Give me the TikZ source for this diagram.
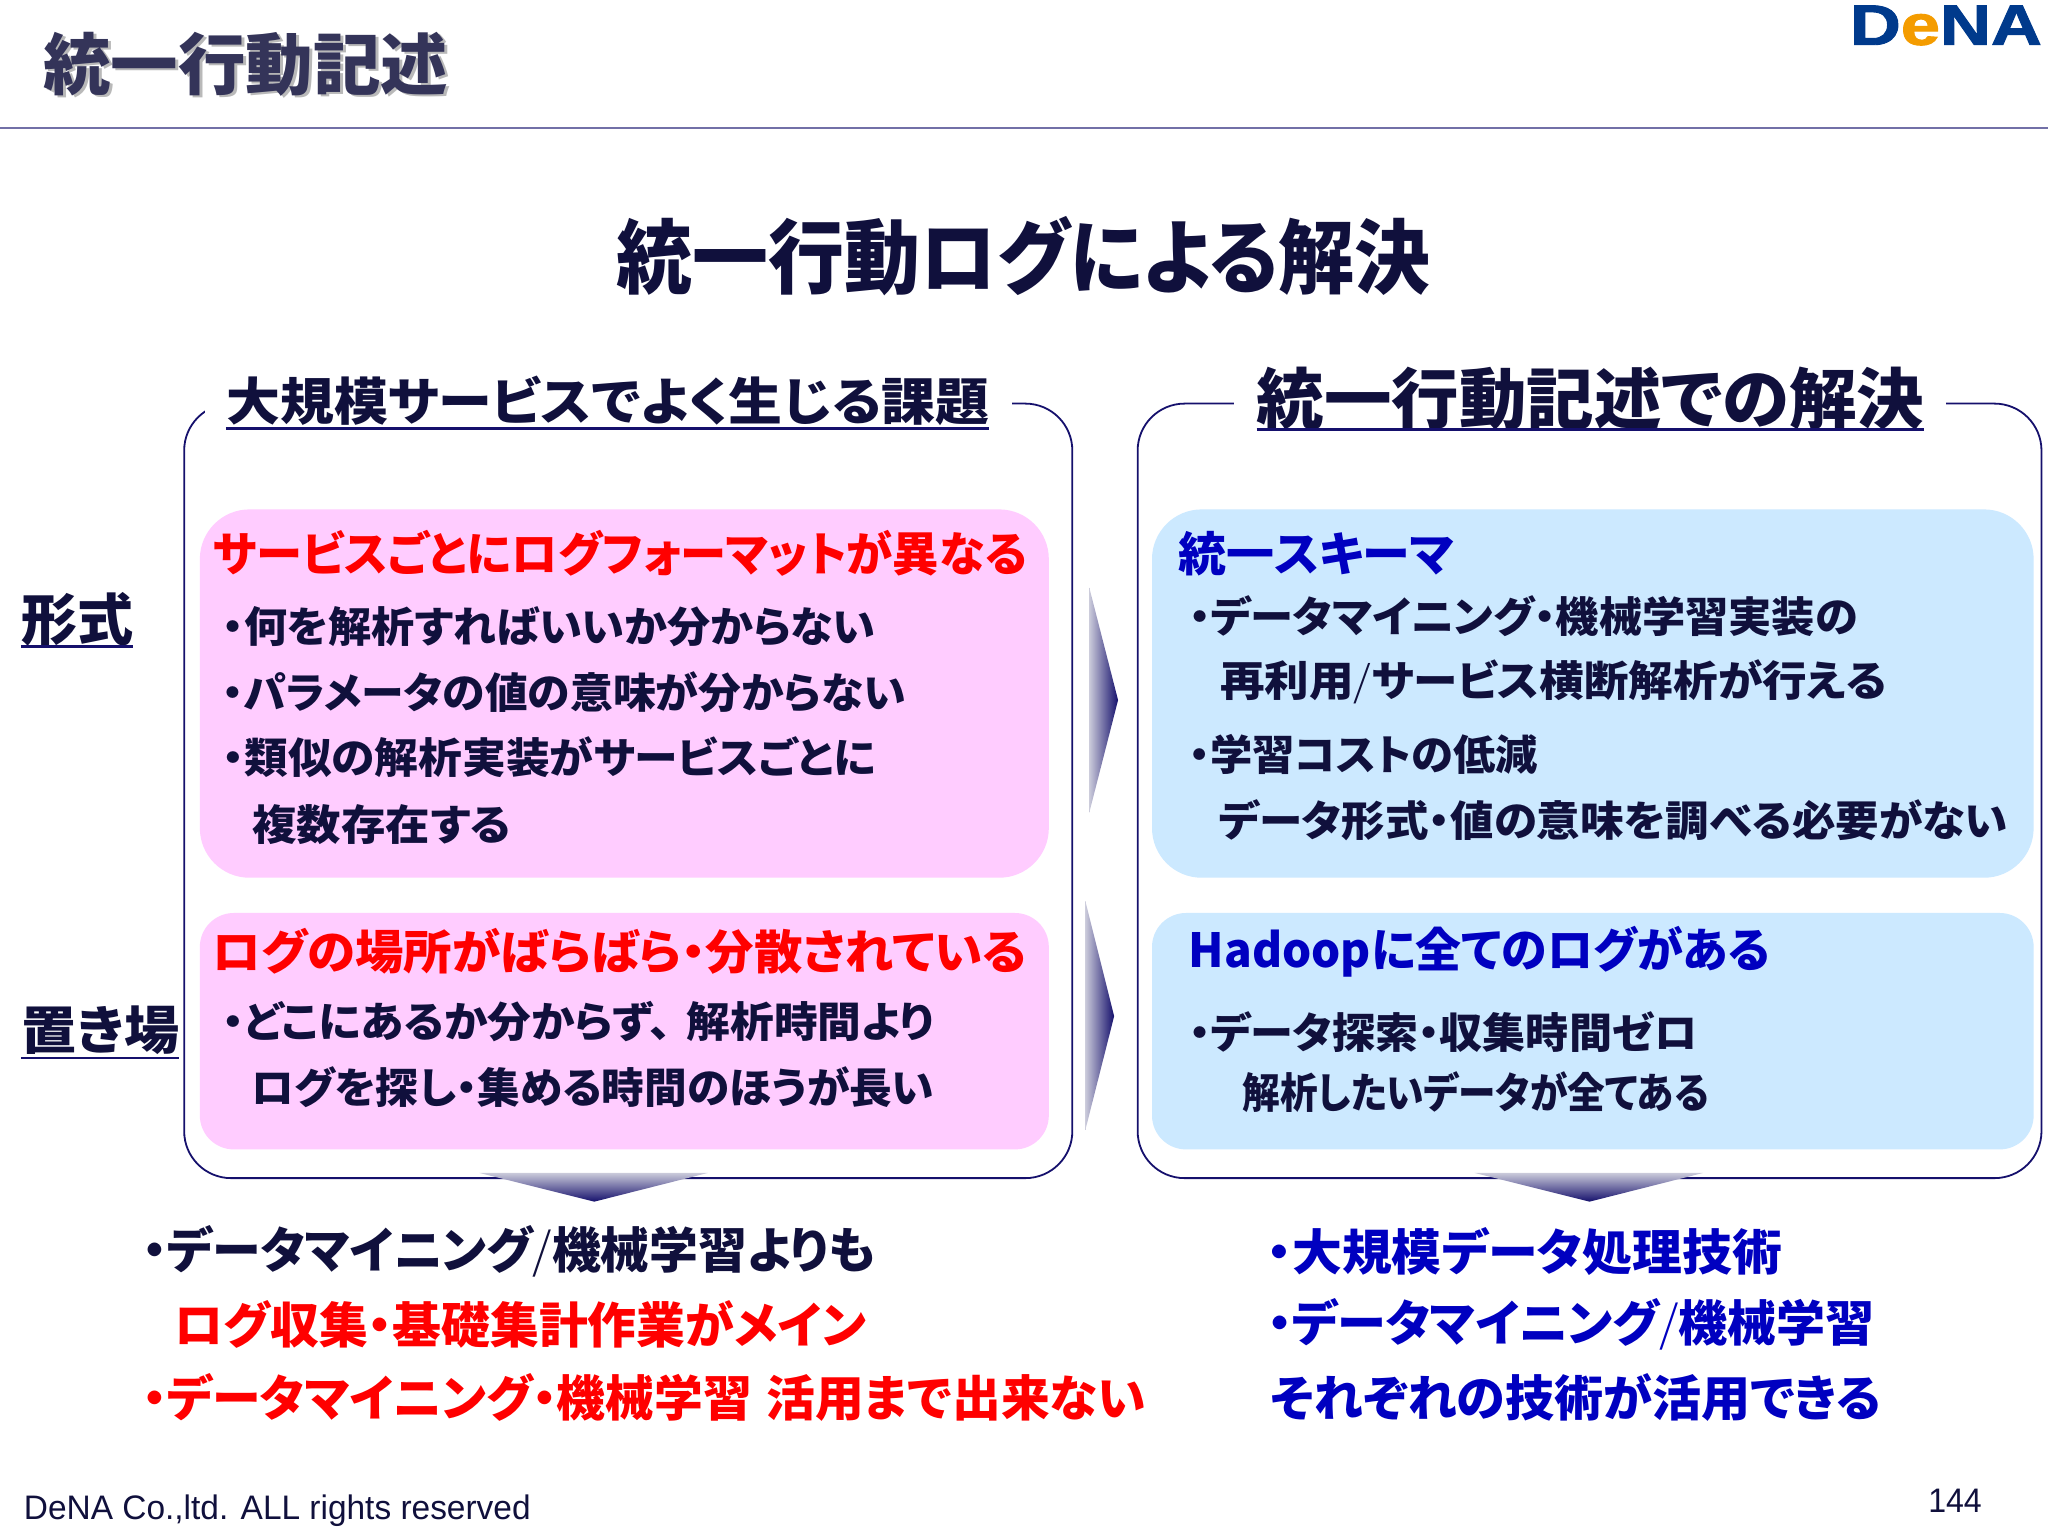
\documentclass[tikz,border=0pt]{standalone}
\usepackage{fontspec, graphicx, xcolor}
\setmainfont{Liberation Sans}
\newfontfamily\cjk[RawFeature=+palt]{Noto Sans CJK JP Black}
\newfontfamily\cjkthin{Noto Sans CJK JP Light}
\newfontfamily\logofont[FakeBold=1.6]{Liberation Sans Bold}
\usetikzlibrary{positioning}
\definecolor{navy}{HTML}{10103C}
\definecolor{rim}{HTML}{15106C}
\definecolor{pinkbox}{HTML}{FFCCFF}
\definecolor{bluebox}{HTML}{CCE9FF}
\definecolor{hotred}{HTML}{FF0000}
\definecolor{deepblue}{HTML}{0000C0}
\definecolor{logoblue}{HTML}{003A8C}
\definecolor{logoorange}{HTML}{F49C00}
\definecolor{shadeA}{HTML}{CACADA}
\definecolor{shadeB}{HTML}{B0B0C6}
\newdimen\pxu \pxu=0.65306pt
\newcommand{\fitw}[2]{\resizebox{#1\pxu}{\height}{#2}}
\newcommand{\slashmark}{{\cjkthin /}}
\tikzset{
  txt/.style = {anchor=west, inner sep=0pt, text=navy, font=\cjk\fontsize{21}{21}\selectfont},
  hot/.style = {txt, text=hotred},
  cool/.style = {txt, text=deepblue},
  big/.style = {font=\cjk\fontsize{23.5}{24}\selectfont},
  low/.style = {font=\cjk\fontsize{24.5}{25}\selectfont},
  rimbox/.style = {draw=rim, line width=0.9pt, fill=white, rounded corners=36\pxu},
  headbar/.style = {rim, line width=1.4pt},
  sidearrow/.style = {left color=shadeA, middle color=shadeB, right color=rim},
  downarrow/.style = {top color=shadeA, middle color=shadeB, bottom color=rim}
}

\begin{document}
\begin{tikzpicture}[x=\pxu, y=-\pxu]
\useasboundingbox (0,0) rectangle (1568,1176);
% top of the slide
\node[txt, text=gray!55, font=\cjk\fontsize{33.5}{34}\selectfont] (titleshade) at (35,51) {\fitw{310}{統一行動記述}};
\node[txt, text=navy!85, font=\cjk\fontsize{33.5}{34}\selectfont] (title) at (33,49) {\fitw{310}{統一行動記述}};
\draw[rim!60!white, line width=0.75pt] (0,98) -- (1568,98);
\node[anchor=west, inner sep=0pt] (logo) at (1416,19.5) {\resizebox{147\pxu}{30\pxu}{\logofont\textcolor{logoblue}{D}\textcolor{logoorange}{e}\textcolor{logoblue}{NA}}};
\node[txt, font=\cjk\fontsize{40.5}{41}\selectfont] (maintitle) at (472,196) {\fitw{623}{統一行動ログによる解決}};
% outer frames
\draw[rimbox] (141,309) rectangle (821,902);
\draw[rimbox] (871,309) rectangle (1563,902);
\fill[white] (157,285) rectangle (775,335);
\fill[white] (945,285) rectangle (1490,335);
\node[txt, font=\cjk\fontsize{25.5}{26}\selectfont] (headleft) at (173,307) {\fitw{584}{大規模サービスでよく生じる課題}};
\node[txt, font=\cjk\fontsize{33}{34}\selectfont] (headright) at (962,305) {\fitw{511}{統一行動記述での解決}};
\coordinate (ulA) at (173,328);
\coordinate (ulB) at (757,328);
\coordinate (urA) at (962,329);
\coordinate (urB) at (1473,329);
\draw[headbar] (ulA) -- (ulB);
\draw[headbar] (urA) -- (urB);
% coloured boxes
\fill[pinkbox, rounded corners=38\pxu] (153,390) rectangle (803,672);
\fill[pinkbox, rounded corners=26\pxu] (153,699) rectangle (803,880);
\fill[bluebox, rounded corners=38\pxu] (882,390) rectangle (1557,672);
\fill[bluebox, rounded corners=26\pxu] (882,699) rectangle (1557,880);
% side labels
\node[txt, font=\cjk\fontsize{28}{28}\selectfont] (kind) at (16,474) {\fitw{86}{形式}};
\node[txt, font=\cjk\fontsize{26}{26}\selectfont] (place) at (16,789) {\fitw{121}{置き場}};
\coordinate (kindA) at (16,495);
\coordinate (kindB) at (102,495);
\coordinate (placeA) at (16,810);
\coordinate (placeB) at (137,810);
\draw[headbar] (kindA) -- (kindB);
\draw[headbar] (placeA) -- (placeB);
% pink boxes
\node[hot, big] (pinkA) at (163,424) {\fitw{623}{サービスごとにログフォーマットが異なる}};
\node[txt] (pinkA1) at (170,480) {\fitw{500}{・何を解析すればいいか分からない}};
\node[txt] (pinkA2) at (170,530) {\fitw{523}{・パラメータの値の意味が分からない}};
\node[txt] (pinkA3) at (170,580) {\fitw{500}{・類似の解析実装がサービスごとに}};
\node[txt] (pinkA4) at (193,631) {\fitw{198}{複数存在する}};
\node[hot, big] (pinkB) at (162,728) {\fitw{624}{ログの場所がばらばら・分散されている}};
\node[txt] (pinkB1) at (170,782) {\fitw{545}{・どこにあるか分からず、\hspace{.35em}解析時間より}};
\node[txt] (pinkB2) at (192,832) {\fitw{523}{ログを探し・集める時間のほうが長い}};
% blue boxes
\node[cool, big] (blueA) at (902,424) {\fitw{211}{統一スキーマ}};
\node[txt] (blueA1) at (910,472) {\fitw{512}{・データマイニング・機械学習実装の}};
\node[txt] (blueA2) at (934,522) {\fitw{510}{再利用\slashmark サービス横断解析が行える}};
\node[txt] (blueA3) at (910,578) {\fitw{267}{・学習コストの低減}};
\node[txt] (blueA4) at (933,628) {\fitw{604}{データ形式・値の意味を調べる必要がない}};
\node[cool, big] (blueB) at (910,729) {\fitw{445}{Hadoopに全てのログがある}};
\node[txt] (blueB1) at (910,790) {\fitw{390}{・データ探索・収集時間ゼロ}};
\node[txt] (blueB2) at (951,836) {\fitw{357}{解析したいデータが全てある}};
% arrows
\shade[sidearrow] (834,450) -- (856,536) -- (834,622) -- cycle;
\shade[sidearrow] (831,690) -- (853,778) -- (831,865) -- cycle;
\shade[downarrow] (367,898) -- (542,898) -- (455,920) -- cycle;
\shade[downarrow] (1129,898) -- (1304,898) -- (1217,920) -- cycle;
% conclusions
\node[txt, low] (lowA) at (109,958) {\fitw{561}{・データマイニング\slashmark 機械学習よりも}};
\node[hot, low] (lowB) at (133,1014) {\fitw{530}{ログ収集・基礎集計作業がメイン}};
\node[hot, low] (lowC) at (109,1070) {\fitw{768}{・データマイニング・機械学習\hspace{.3em}活用まで出来ない}};
\node[cool, low] (lowD) at (970,958) {\fitw{394}{・大規模データ処理技術}};
\node[cool, low] (lowE) at (970,1014) {\fitw{465}{・データマイニング\slashmark 機械学習}};
\node[cool, low] (lowF) at (972,1070) {\fitw{468}{それぞれの技術が活用できる}};
% footer
\node[anchor=west, inner sep=0pt, text=navy, font=\fontsize{17}{17}\selectfont] (copyright) at (18,1157) {\fitw{388}{DeNA Co.,ltd. ALL rights reserved}};
\node[anchor=west, inner sep=0pt, text=navy, font=\fontsize{17}{17}\selectfont] (pagenum) at (1476,1149) {\fitw{41}{144}};
\end{tikzpicture}
\end{document}
